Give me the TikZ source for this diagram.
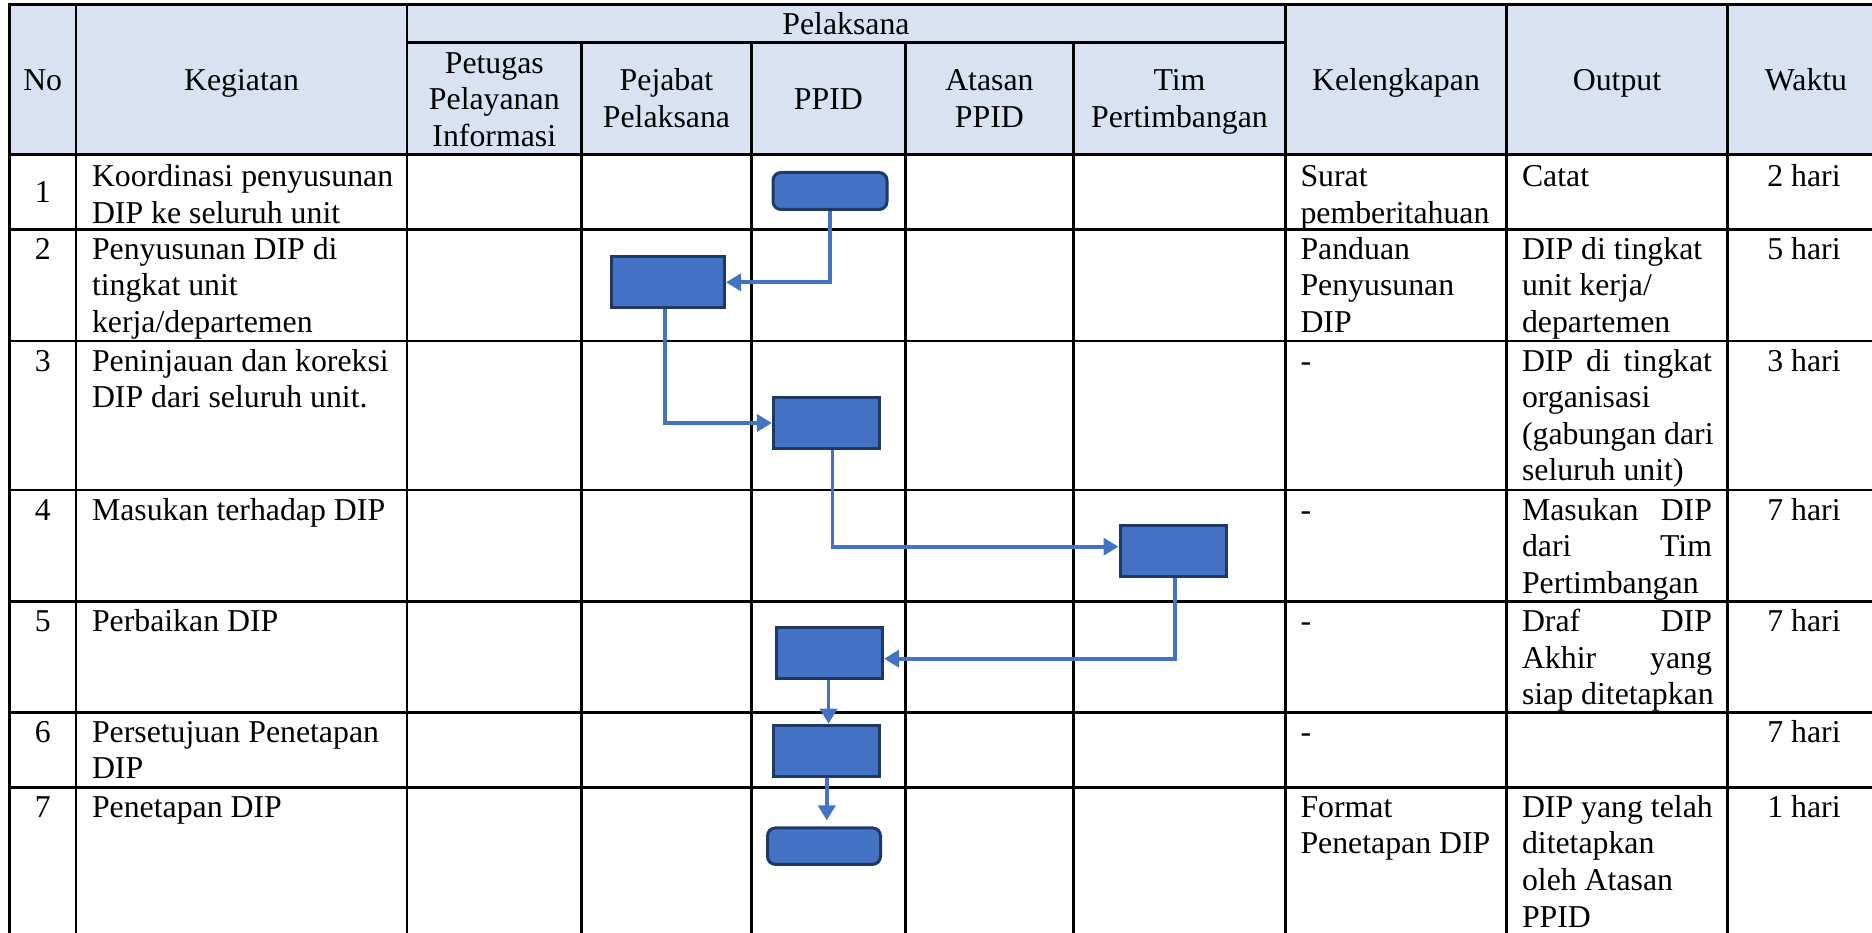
\documentclass[tikz,border=0pt]{standalone}
\usepackage{fontspec}
\setmainfont{Liberation Serif}
\usetikzlibrary{arrows.meta}
\definecolor{hdr}{HTML}{D9E2F3}
\definecolor{boxblue}{HTML}{4472C4}
\definecolor{boxedge}{HTML}{1F3864}
\newcommand{\lcell}[2]{\parbox[t]{#1pt}{\raggedright #2}}
\newcommand{\ccell}[2]{\parbox[t]{#1pt}{\centering #2}}
\newcommand{\jline}[1]{\makebox[190pt]{#1}}
\begin{document}
\begin{tikzpicture}[x=1pt,y=-1pt,
  txt/.style={inner sep=0pt, outer sep=0pt, font=\fontsize{31.8}{36.6}\selectfont, anchor=base west},
  ctxt/.style={txt, anchor=base},
  grid/.style={line width=2.7pt, black, line cap=rect},
  stepbox/.style={draw=boxedge, line width=3pt, fill=boxblue, inner sep=0pt, minimum width=106pt, minimum height=51pt},
  termbox/.style={stepbox, rounded corners=8pt, minimum width=114pt, minimum height=37pt},
  flow/.style={draw=boxblue, line width=3.6pt, -{Triangle[length=15pt,width=17pt]}}
]
\useasboundingbox (0,0) rectangle (1872,933);
% header background
\fill[hdr] (9.5,4.7) rectangle (1872,154.5);
% horizontal rules
\foreach \yy in {4.7,154.5,229.3,341,490,601.7,712.3,787.3}
  \draw[grid] (9.5,\yy) -- (1872,\yy);
\draw[grid] (407,42.7) -- (1285.5,42.7);
% vertical rules
\foreach \xx in {9.5,76,407,1285.5,1506.8,1727.7}
  \draw[grid] (\xx,4.7) -- (\xx,933);
\foreach \xx in {581.6,751.4,905.4,1073.4}
  \draw[grid] (\xx,42.7) -- (\xx,933);

% header texts
\node[ctxt] (hNo) at (42.7,91) {No};
\node[ctxt] (hKeg) at (241.5,91) {Kegiatan};
\node[ctxt] (hPel) at (846,35) {Pelaksana};
\node[ctxt] (hPet) at (494.3,73.3) {\ccell{170}{Petugas\\Pelayanan\\Informasi}};
\node[ctxt] (hPej) at (666.5,90.7) {\ccell{165}{Pejabat\\Pelaksana}};
\node[ctxt] (hPPID) at (828.4,109.3) {PPID};
\node[ctxt] (hAt) at (989.4,90.7) {\ccell{165}{Atasan\\PPID}};
\node[ctxt] (hTim) at (1179.5,90.7) {\ccell{205}{Tim\\Pertimbangan}};
\node[ctxt] (hKel) at (1396,91) {Kelengkapan};
\node[ctxt] (hOut) at (1617,91) {Output};
\node[ctxt] (hWak) at (1806,91) {Waktu};

% row numbers
\node[ctxt] (n1) at (42.7,202.7) {1};
\node[ctxt] (n2) at (42.7,259.3) {2};
\node[ctxt] (n3) at (42.7,371) {3};
\node[ctxt] (n4) at (42.7,520) {4};
\node[ctxt] (n5) at (42.7,631.7) {5};
\node[ctxt] (n6) at (42.7,742.3) {6};
\node[ctxt] (n7) at (42.7,817.3) {7};

% kegiatan
\node[txt] (k1) at (92,186.5) {\lcell{312}{Koordinasi penyusunan\\DIP ke seluruh unit}};
\node[txt] (k2) at (92,259.3) {\lcell{312}{Penyusunan DIP di\\tingkat unit\\kerja/departemen}};
\node[txt] (k3) at (92,371) {\lcell{312}{Peninjauan dan koreksi\\DIP dari seluruh unit.}};
\node[txt] (k4) at (92,520) {Masukan terhadap DIP};
\node[txt] (k5) at (92,631.7) {Perbaikan DIP};
\node[txt] (k6) at (92,742.3) {\lcell{312}{Persetujuan Penetapan\\DIP}};
\node[txt] (k7) at (92,817.3) {Penetapan DIP};

% kelengkapan
\node[txt] (l1) at (1300.5,186.5) {\lcell{205}{Surat\\pemberitahuan}};
\node[txt] (l2) at (1300.5,259.3) {\lcell{205}{Panduan\\Penyusunan\\DIP}};
\node[txt] (l3) at (1300.5,371) {-};
\node[txt] (l4) at (1300.5,520) {-};
\node[txt] (l5) at (1300.5,631.7) {-};
\node[txt] (l6) at (1300.5,742.3) {-};
\node[txt] (l7) at (1300.5,817.3) {\lcell{205}{Format\\Penetapan DIP}};

% output
\node[txt] (o1) at (1522,186.5) {Catat};
\node[txt] (o2) at (1522,259.3) {\lcell{205}{DIP di tingkat\\unit kerja/\\departemen}};
\node[txt] (o3) at (1522,371) {\lcell{205}{\jline{DIP\hfill di\hfill tingkat}\\organisasi\\(gabungan dari\\seluruh unit)}};
\node[txt] (o4) at (1522,520) {\lcell{205}{\jline{Masukan\hfill DIP}\\\jline{dari\hfill Tim}\\Pertimbangan}};
\node[txt] (o5) at (1522,631.7) {\lcell{205}{\jline{Draf\hfill DIP}\\\jline{Akhir\hfill yang}\\siap ditetapkan}};
\node[txt] (o7) at (1522,817.3) {\lcell{205}{DIP yang telah\\ditetapkan\\oleh Atasan\\PPID}};

% waktu
\node[ctxt] (w1) at (1804,186.5) {2 hari};
\node[ctxt] (w2) at (1804,259.3) {5 hari};
\node[ctxt] (w3) at (1804,371) {3 hari};
\node[ctxt] (w4) at (1804,520) {7 hari};
\node[ctxt] (w5) at (1804,631.7) {7 hari};
\node[ctxt] (w6) at (1804,742.3) {7 hari};
\node[ctxt] (w7) at (1804,817.3) {1 hari};

% flow boxes
\node[termbox] (b1) at (830,191) {};
\node[stepbox, minimum width=113pt] (b2) at (668,282.3) {};
\node[stepbox] (b3) at (826.4,423) {};
\node[stepbox] (b4) at (1173,550.7) {};
\node[stepbox] (b5) at (829.6,652.7) {};
\node[stepbox] (b6) at (826.8,750.7) {};
\node[termbox, minimum width=113pt, minimum height=36.5pt] (b7) at (824,846.2) {};

% connectors
\draw[flow] (b1.south) |- (b2.east);
\draw[flow] ([xshift=-3pt]b2.south) |- (b3.west);
\draw[flow] ([xshift=6pt]b3.south) |- ([yshift=4pt]b4.west);
\draw[flow] ([xshift=2pt]b4.south) |- ([yshift=-6pt]b5.east);
\draw[flow] ([xshift=-1pt]b5.south) -- ([xshift=-1pt]b5.south |- b6.north);
\draw[flow, shorten >=6pt] (b6.south) -- (b6.south |- b7.north);
\end{tikzpicture}
\end{document}
